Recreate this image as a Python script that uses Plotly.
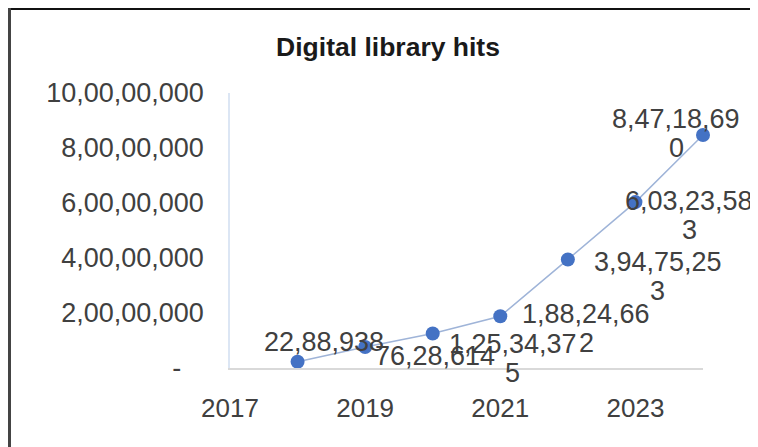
import plotly.graph_objects as go

years = [2018, 2019, 2020, 2021, 2022, 2023, 2024]
hits = [2288938, 7628614, 12534375, 18824662, 39475253, 60323583, 84718690]
y_ticks = [0, 20000000, 40000000, 60000000, 80000000, 100000000]
x_ticks = [2017, 2019, 2021, 2023]

# page body has an 8px default margin, so the figure is a bit smaller
W, H = 750, 439
ML, MR, MT, MB = 222, 55, 85, 79
FONT = "Liberation Sans, Arial, sans-serif"
TXT = "#404040"


def indian(n):
    s = str(int(n))
    if len(s) <= 3:
        return s
    head, tail = s[:-3], s[-3:]
    parts = []
    while len(head) > 2:
        parts.insert(0, head[-2:])
        head = head[:-2]
    if head:
        parts.insert(0, head)
    return ",".join(parts) + "," + tail


def wrap(s, n=10):
    return [s[i:i + n] for i in range(0, len(s), n)]


y_text = ["-\u00a0\u00a0\u00a0" if v == 0 else indian(v) for v in y_ticks]

# label centre offsets (px) from each point: dx, dy of first line (down is +)
label_pos = [(26, -20), (70, 9), (80, 10), (86, -2), (90, 3), (54, -1), (-27, -16)]
LINE_GAP = 29

fig = go.Figure()
fig.add_trace(go.Scatter(
    x=years, y=hits, mode="lines+markers",
    line=dict(color="#9fb4d8", width=1.5),
    marker=dict(color="#4472c4", size=14),
    cliponaxis=False, showlegend=False,
))

annotations = []
for x, y, (dx, dy) in zip(years, hits, label_pos):
    for i, part in enumerate(wrap(indian(y))):
        annotations.append(dict(
            x=x, y=y, xref="x", yref="y", text=part, showarrow=False,
            xanchor="center", yanchor="middle",
            xshift=dx, yshift=-(dy + i * LINE_GAP),
            font=dict(family=FONT, size=27, color=TXT),
        ))


def px_x(p):
    return (p - ML) / (W - ML - MR)


def px_y(p):
    return (H - MB - p) / (H - MT - MB)


shapes = [
    dict(type="line", xref="paper", yref="paper",
         x0=px_x(-2), x1=px_x(W + 4), y0=px_y(0.5), y1=px_y(0.5),
         line=dict(color="#111111", width=3)),
    dict(type="line", xref="paper", yref="paper",
         x0=px_x(1), x1=px_x(1), y0=px_y(-2), y1=px_y(H + 4),
         line=dict(color="#444444", width=4)),
]

fig.update_layout(
    width=W, height=H,
    margin=dict(l=ML, r=MR, t=MT, b=MB),
    paper_bgcolor="white", plot_bgcolor="white",
    title=dict(text="<b>Digital library hits</b>", x=380 / W, xref="container",
               xanchor="center", y=1 - 39 / H, yref="container", yanchor="middle",
               font=dict(family=FONT, size=26.5, color="#1a1a1a")),
    xaxis=dict(range=[2017, 2024], tickvals=x_ticks, ticktext=[str(v) for v in x_ticks],
               showgrid=False, zeroline=False, showline=True, linecolor="#d9d9d9",
               linewidth=1.5, ticks="", ticklabelstandoff=16,
               tickfont=dict(family=FONT, size=26, color=TXT)),
    yaxis=dict(range=[0, 100000000], tickvals=y_ticks, ticktext=y_text,
               showgrid=False, zeroline=False, showline=True, linecolor="#dce6f4",
               linewidth=1.5, ticks="", ticklabelstandoff=19,
               tickfont=dict(family=FONT, size=27, color=TXT)),
    annotations=annotations,
    shapes=shapes,
)

fig.write_html("out.html")
